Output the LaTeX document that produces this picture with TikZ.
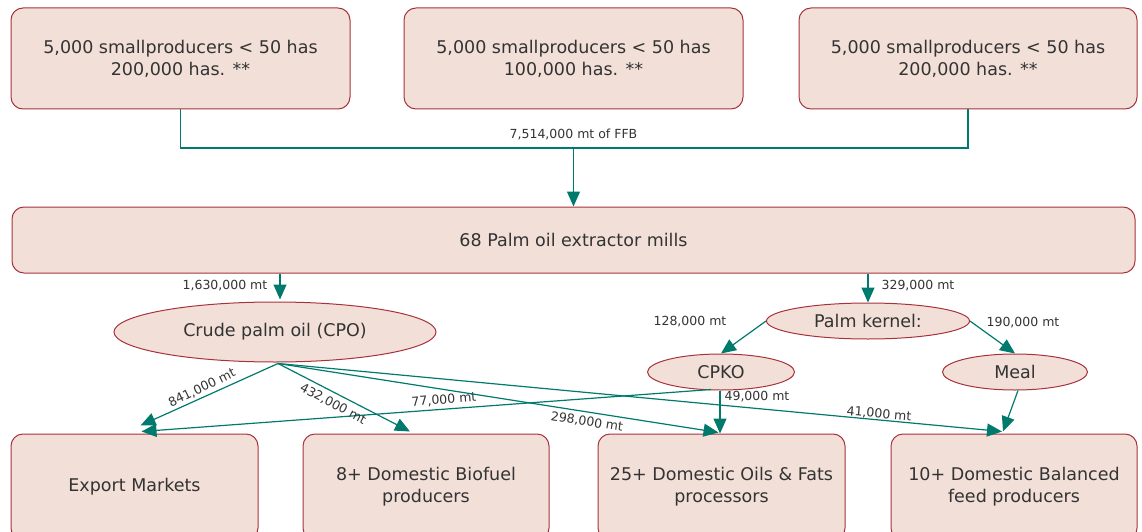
\documentclass[tikz,border=0pt]{standalone}
\usepackage{fontspec}
\setmainfont{DejaVu Sans}
\usetikzlibrary{arrows.meta,shapes.geometric,calc}
\definecolor{boxfill}{HTML}{F2E0D8}
\definecolor{boxdraw}{HTML}{A8323C}
\definecolor{tealc}{HTML}{007A6C}
\definecolor{txt}{HTML}{333333}
\begin{document}
\begin{tikzpicture}[x=1pt,y=-1pt,
  box/.style={draw=boxdraw, fill=boxfill, line width=1pt, rounded corners=12pt, text=txt,
    font=\fontsize{17.5}{22}\selectfont, align=center, inner sep=0pt},
  ell/.style={ellipse, draw=boxdraw, fill=boxfill, line width=1pt, text=txt,
    font=\fontsize{17.5}{22}\selectfont, inner sep=0pt},
  conn/.style={draw=tealc, line width=1.2pt},
  arr/.style={conn, -{Triangle[length=15pt,width=13pt]}},
  lbl/.style={text=txt, font=\fontsize{12.5}{15}\selectfont, inner sep=0pt}]
\useasboundingbox (0,0) rectangle (1142,532);
\clip (0,0) rectangle (1142,532);
% top producers
\node[box, minimum width=339pt, minimum height=101pt] (p1) at (180.5,58.5) {5,000 smallproducers < 50 has\\200,000 has. **};
\node[box, minimum width=339pt, minimum height=101pt] (p2) at (573.5,58.5) {5,000 smallproducers < 50 has\\100,000 has. **};
\node[box, minimum width=338pt, minimum height=101pt] (p3) at (968,58.5) {5,000 smallproducers < 50 has\\200,000 has. **};
% mills
\node[box, minimum width=1123pt, minimum height=66pt] (mills) at (573.5,240) {68 Palm oil extractor mills};
% ellipses
\node[ell, minimum width=322pt, minimum height=60pt] (cpo) at (275,332) {Crude palm oil (CPO)};
\node[ell, minimum width=203pt, minimum height=36pt] (pk) at (868,321) {Palm kernel:};
\node[ell, minimum width=147pt, minimum height=36pt] (cpko) at (721,372) {CPKO};
\node[ell, minimum width=145pt, minimum height=36pt] (meal) at (1015,372) {Meal};
% bottom boxes
\node[box, minimum width=247pt, minimum height=106pt] (exp) at (134.5,487) {Export Markets};
\node[box, minimum width=246pt, minimum height=106pt] (bio) at (426,487) {8+ Domestic Biofuel\\producers};
\node[box, minimum width=247pt, minimum height=106pt] (oils) at (721.5,487) {25+ Domestic Oils \& Fats\\processors};
\node[box, minimum width=246pt, minimum height=106pt] (feed) at (1014,487) {10+ Domestic Balanced\\feed producers};
% top connector
\coordinate (j) at (573.5,148);
\draw[conn] (p1.south) |- (j) -| (p3.south);
\draw[arr] (j) -- (mills.north);
\node[lbl] (lffb) at (573.5,134) {7,514,000 mt of FFB};
% mills outputs
\draw[arr] ([xshift=5pt]cpo.north |- mills.south) -- ([xshift=5pt,yshift=2pt]cpo.north);
\node[lbl] (l1630) at (225,286) {1,630,000 mt};
\draw[arr] (pk.north |- mills.south) -- (pk.north);
\node[lbl] (l329) at (918,286) {329,000 mt};
% palm kernel
\draw[arr] (pk.west) -- (cpko.north);
\node[lbl] (l128) at (690,322) {128,000 mt};
\draw[arr] (pk.east) -- (meal.north);
\node[lbl] (l190) at (1023,323) {190,000 mt};
\draw[arr] ([xshift=3pt]meal.south) -- ([xshift=-11pt,yshift=2pt]feed.north);
% cpko
\draw[arr] ([xshift=-1pt]cpko.south) -- ([xshift=-1pt]cpko.south |- oils.north);
\node[lbl] (l49) at (757,397) {49,000 mt};
\draw[arr] ([xshift=-10pt,yshift=1pt]cpko.south) -- ([xshift=7pt,yshift=2pt]exp.north);
\node[lbl, rotate=4.2] (l77) at (444,400) {77,000 mt};
% cpo outputs
\coordinate (cs) at ([xshift=3pt,yshift=-1pt]cpo.south);
\draw[arr] (cs) -- ([xshift=6pt,yshift=8pt]exp.north);
\node[lbl, rotate=26] (l841) at (202,388) {841,000 mt};
\draw[arr] (cs) -- ([xshift=-16pt,yshift=2pt]bio.north);
\node[lbl, rotate=-28] (l432) at (333,404) {432,000 mt};
\draw[arr] (cs) -- ([xshift=-3pt,yshift=1pt]oils.north);
\node[lbl, rotate=-9] (l298) at (587,422) {298,000 mt};
\draw[arr] (cs) -- ([xshift=-12pt,yshift=2pt]feed.north);
\node[lbl, rotate=-5] (l41) at (879,414) {41,000 mt};
\end{tikzpicture}
\end{document}
